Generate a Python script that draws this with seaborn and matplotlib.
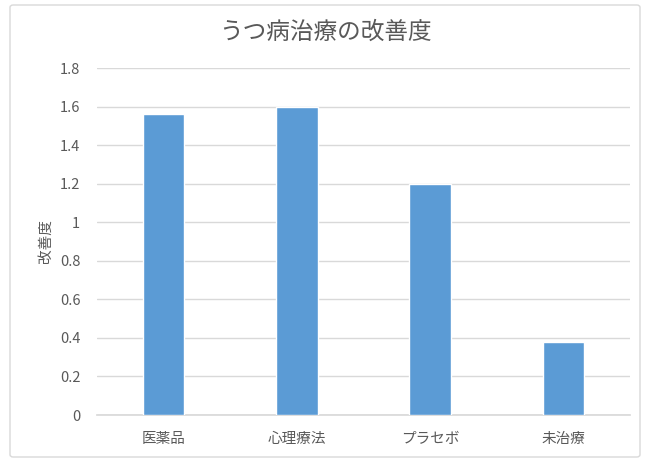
import matplotlib
matplotlib.use("Agg")
import matplotlib.pyplot as plt
import numpy as np
import pandas as pd
import seaborn as sns
from matplotlib.patches import FancyBboxPatch

categories = ['医薬品', '心理療法', 'プラセボ', '未治療']
improvement = [1.56, 1.60, 1.20, 0.38]
yticks = [0, 0.2, 0.4, 0.6, 0.8, 1, 1.2, 1.4, 1.6, 1.8]
ytick_labels = ['0', '0.2', '0.4', '0.6', '0.8', '1', '1.2', '1.4', '1.6', '1.8']

df = pd.DataFrame({'治療': categories, '改善度': improvement})

sns.set_theme(style="white")
plt.rcParams['font.family'] = ['Noto Sans CJK JP', 'DejaVu Sans']

text_color = '#595959'
fig = plt.figure(figsize=(6.5, 4.61), dpi=100)
ax = fig.add_axes([97 / 650, 1 - 415 / 461, 533 / 650, 347 / 461])

sns.barplot(data=df, x='治療', y='改善度', color='#5B9BD5', width=0.31,
            saturation=1, ax=ax, zorder=3)

ax.set_ylim(0, 1.8)
ax.set_xlim(-0.5, 3.5)
ax.set_yticks(yticks)
ax.set_yticklabels(ytick_labels)
ax.yaxis.grid(True, color='#d9d9d9', linewidth=1, zorder=0)
ax.set_axisbelow(True)
for s in ['top', 'right', 'left']:
    ax.spines[s].set_visible(False)
ax.spines['bottom'].set_color('#d9d9d9')
ax.tick_params(axis='both', length=0, colors=text_color, labelsize=10.5)
ax.tick_params(axis='x', pad=12)
ax.tick_params(axis='y', pad=12)
ax.set_xlabel('')
ax.set_ylabel('改善度', color=text_color, fontsize=10.5, labelpad=5)

fig.text(0.5, 1 - 32 / 461, 'うつ病治療の改善度', ha='center', va='center',
         fontsize=17, color=text_color)

border = FancyBboxPatch((10 / 650, 4 / 461), 630 / 650, 452 / 461,
                        boxstyle='round,pad=0,rounding_size=0.005',
                        transform=fig.transFigure, fill=False,
                        edgecolor='#d9d9d9', linewidth=1)
fig.patches.append(border)

fig.savefig('out.png', dpi=100)
